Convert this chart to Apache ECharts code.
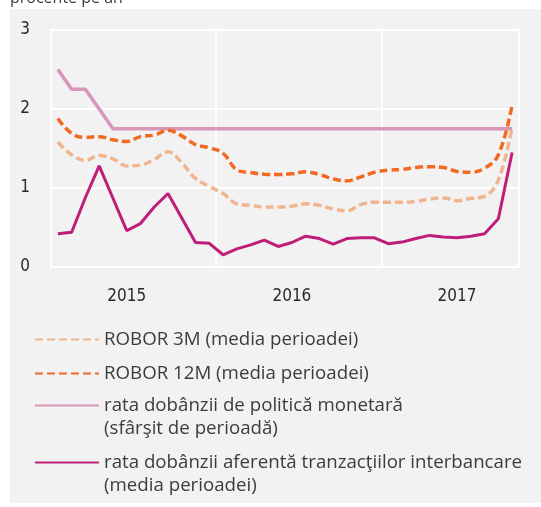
<!DOCTYPE html>
<html>
<head>
<meta charset="utf-8">
<script src="https://cdn.jsdelivr.net/npm/echarts@6/dist/echarts.min.js"></script>
<style>
  html, body { margin: 0; padding: 0; background: #fff; }
  #chart { width: 541px; height: 507px; }
</style>
</head>
<body>
<div id="chart"></div>
<script>
// monthly data, Jan 2015 - Oct 2017
var months = [
  "2015-01", "2015-02", "2015-03", "2015-04", "2015-05", "2015-06",
  "2015-07", "2015-08", "2015-09", "2015-10", "2015-11", "2015-12",
  "2016-01", "2016-02", "2016-03", "2016-04", "2016-05", "2016-06",
  "2016-07", "2016-08", "2016-09", "2016-10", "2016-11", "2016-12",
  "2017-01", "2017-02", "2017-03", "2017-04", "2017-05", "2017-06",
  "2017-07", "2017-08", "2017-09", "2017-10"
];
// the year label sits under June of each year
var yearLabelMonth = "06";
var yTicks = [0, 1, 2, 3];

var robor3m = [
  1.58, 1.42, 1.35, 1.41, 1.37, 1.28, 1.29, 1.36, 1.46, 1.32, 1.12, 1.02,
  0.93, 0.80, 0.78, 0.76, 0.76, 0.77, 0.80, 0.78, 0.735, 0.71, 0.79, 0.82,
  0.82, 0.82, 0.83, 0.86, 0.875, 0.84, 0.87, 0.895, 1.10, 1.78
];
var robor12m = [
  1.88, 1.69, 1.64, 1.65, 1.61, 1.59, 1.65, 1.67, 1.73, 1.66, 1.55, 1.51,
  1.44, 1.23, 1.195, 1.175, 1.17, 1.18, 1.205, 1.17, 1.115, 1.09, 1.14, 1.20,
  1.225, 1.235, 1.26, 1.27, 1.26, 1.21, 1.20, 1.25, 1.42, 2.05
];
var policyRate = [
  2.50, 2.25, 2.25, 2.00, 1.75, 1.75, 1.75, 1.75, 1.75, 1.75, 1.75, 1.75,
  1.75, 1.75, 1.75, 1.75, 1.75, 1.75, 1.75, 1.75, 1.75, 1.75, 1.75, 1.75,
  1.75, 1.75, 1.75, 1.75, 1.75, 1.75, 1.75, 1.75, 1.75, 1.75
];
var interbank = [
  0.42, 0.44, 0.88, 1.28, 0.87, 0.46, 0.55, 0.76, 0.93, 0.62, 0.31, 0.30,
  0.155, 0.23, 0.28, 0.34, 0.26, 0.31, 0.39, 0.36, 0.29, 0.36, 0.37, 0.37,
  0.295, 0.315, 0.36, 0.40, 0.38, 0.37, 0.39, 0.42, 0.61, 1.45
];

var names = [
  "ROBOR 3M (media perioadei)",
  "ROBOR 12M (media perioadei)",
  "rata dobânzii de politică monetară\n(sfârşit de perioadă)",
  "rata dobânzii aferentă tranzacţiilor interbancare\n(media perioadei)"
];

var axisFont = "'DejaVu Sans Condensed', 'Liberation Sans Narrow', sans-serif";
var textFont = "'Open Sans', 'Noto Sans', sans-serif";

var chart = echarts.init(document.getElementById("chart"));

// one legend per row so the rows can be placed like the original.
// two-line names get an empty first line, so the icon lines up with
// the first line of text (the icon is centred on the text block)
function legendRow(name, top, twoLines) {
  return {
    data: [name],
    left: 34,
    top: top,
    padding: 0,
    itemWidth: 64,
    itemHeight: 1,
    selectedMode: false,
    itemStyle: { opacity: 0 },
    formatter: function (n) {
      return twoLines ? "\n" + n : n;
    },
    textStyle: {
      fontFamily: textFont,
      fontSize: 18.7,
      color: "#3c3c3c",
      lineHeight: 23,
    },
  };
}

var option = {
  animation: false,
  backgroundColor: "#fff",
  graphic: [
    {
      type: "rect",
      shape: { x: 10, y: 9, width: 531, height: 494 },
      style: { fill: "#f2f2f2" },
      z: -10,
    },
    {
      type: "text",
      x: 10,
      y: 6,
      style: {
        text: "procente pe an",
        font: "16px " + textFont,
        fill: "#3c3c3c",
        verticalAlign: "bottom",
      },
    },
  ],
  grid: {
    left: 51,
    right: 22,
    top: 30,
    bottom: 240,
  },
  legend: [
    legendRow(names[0], 328, false),
    legendRow(names[1], 362, false),
    legendRow(names[2], 371, true),
    legendRow(names[3], 428, true),
  ],
  xAxis: {
    type: "category",
    data: months,
    boundaryGap: true,
    axisLine: { show: false },
    axisTick: { show: false },
    axisLabel: {
      interval: 0,
      margin: 21,
      fontFamily: axisFont,
      fontSize: 17,
      color: "#2a2a2a",
      formatter: function (v) {
        return v.slice(5) == yearLabelMonth ? v.slice(0, 4) : "";
      },
    },
    splitLine: {
      show: true,
      interval: function (i) {
        return i == 12 || i == 24;
      },
      lineStyle: { color: "#fff", width: 2 },
    },
  },
  yAxis: {
    type: "value",
    min: yTicks[0],
    max: yTicks[yTicks.length - 1],
    interval: 1,
    axisLine: { show: true, lineStyle: { color: "#fff", width: 2 } },
    axisTick: { show: false },
    axisLabel: {
      margin: 21,
      fontFamily: axisFont,
      fontSize: 17,
      color: "#2a2a2a",
    },
    splitLine: { lineStyle: { color: "#fff", width: 2 } },
  },
  series: [
    {
      name: names[0],
      type: "line",
      data: robor3m,
      symbol: "none",
      smooth: 0.4,
      lineStyle: { color: "#f0b48f", width: 3.5, type: [8, 4] },
      itemStyle: { color: "#f0b48f" },
      z: 2,
    },
    {
      name: names[1],
      type: "line",
      data: robor12m,
      symbol: "none",
      smooth: 0.4,
      lineStyle: { color: "#f26a22", width: 3.5, type: [8, 4] },
      itemStyle: { color: "#f26a22" },
      z: 3,
    },
    {
      name: names[2],
      type: "line",
      data: policyRate,
      symbol: "none",
      lineStyle: { color: "#d996b9", width: 3.5 },
      itemStyle: { color: "#d996b9" },
      z: 1,
    },
    {
      name: names[3],
      type: "line",
      data: interbank,
      symbol: "none",
      lineStyle: { color: "#be1e78", width: 3 },
      itemStyle: { color: "#be1e78" },
      z: 4,
    },
  ],
};

chart.setOption(option);
</script>
</body>
</html>
